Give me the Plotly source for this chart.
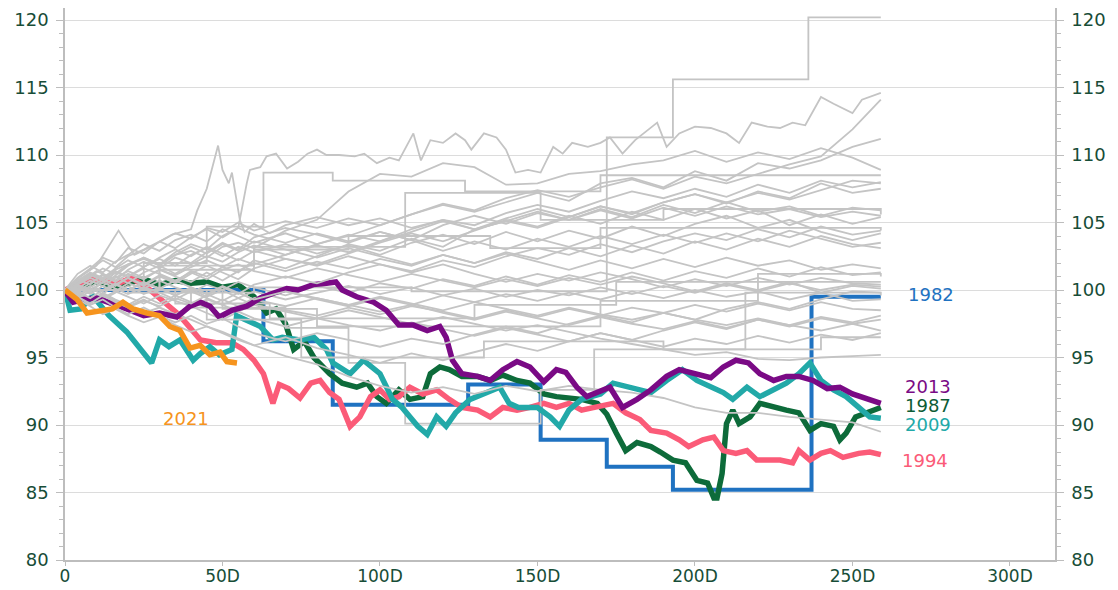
import plotly.graph_objects as go

# ---------------- data ----------------
X_TICK_VALUES = [0, 50, 100, 150, 200, 250, 300]
X_TICK_LABELS = ["0", "50D", "100D", "150D", "200D", "250D", "300D"]
Y_TICK_VALUES = [80, 85, 90, 95, 100, 105, 110, 115, 120]

# common day grid for the grey years
DAYS = [0, 4, 8, 12, 16, 20, 25, 30, 35, 40, 45, 50, 55, 60, 70, 80, 90, 100, 110, 120,
        130, 140, 150, 160, 170, 180, 190, 200, 210, 220, 230, 240, 250, 259]

r03 = [100,100.6,101.2,100.8,101.5,101.9,102.3,101.8,102.6,102.9,102.4,103.2,103.5,103.1,104.4,105.2,107.3,108.6,108.4,109.4,109.1,107.8,107.9,108.6,108.8,109.3,109.6,110.3,109.5,110.2,109.7,110.5,109.8,108.9]
r04 = [100,100.9,101.6,102.4,102.0,103.1,102.7,103.6,104.2,103.8,104.6,104.3,105.0,104.4,105.1,104.6,105.3,104.8,105.6,106.4,105.9,106.8,107.4,106.9,107.6,108.2,107.5,108.4,107.9,108.6,109.3,109.9,111.9,114.1]
r05 = [100,101.2,101.8,101.3,102.1,102.6,103.4,102.9,103.7,104.1,103.6,104.5,104.0,103.5,104.2,103.4,104.0,104.8,105.6,106.3,105.8,106.5,107.2,106.6,107.9,108.3,107.6,108.8,108.1,109.4,109.0,109.6,110.6,111.2]
r06 = [100,100.3,99.8,100.6,101.0,100.5,101.3,101.8,101.2,101.9,102.5,102.1,102.8,103.3,102.6,103.4,104.1,103.6,104.5,105.2,104.8,105.7,106.3,105.8,106.6,107.3,106.8,107.5,106.9,107.8,107.2,108.1,107.6,108.0]
r07 = [100,99.6,100.2,100.8,100.3,100.9,100.4,101.1,100.6,101.4,101.0,101.7,101.3,102.2,101.6,102.5,103.4,102.9,103.8,103.2,104.5,105.1,104.6,105.4,106.2,105.6,106.5,107.1,106.4,107.3,106.8,107.9,107.2,107.5]
r08 = [100,100.8,100.4,101.2,100.7,101.5,102.1,101.6,102.4,102.0,102.8,103.5,103.0,103.9,104.6,104.1,103.5,104.3,103.7,104.8,105.5,104.9,105.7,105.2,106.0,105.4,106.3,105.7,106.5,105.8,106.2,105.5,106.1,105.9]
r09 = [100,99.5,100.1,99.7,100.4,100.9,100.3,101.0,100.5,101.2,101.8,101.3,100.8,101.6,102.3,101.9,102.7,103.5,104.2,103.6,104.4,105.2,104.7,105.5,104.9,105.8,105.2,106.0,105.3,105.9,104.8,105.6,104.9,105.4]
r10 = [100,100.4,100.9,100.5,101.3,101.0,101.7,102.3,101.8,102.6,103.1,102.5,103.2,102.8,103.4,102.7,103.3,102.6,103.5,104.1,103.4,104.3,103.6,104.4,103.8,104.7,104.0,104.9,105.5,104.6,105.2,104.3,103.7,104.2]
r11 = [100,99.9,100.5,101.1,100.6,101.2,100.8,101.5,101.0,100.6,101.3,100.7,101.4,102.0,101.4,102.1,101.6,102.3,101.8,102.6,102.0,102.8,102.3,103.1,102.5,103.3,102.7,103.6,103.0,103.8,103.2,104.0,103.4,103.1]
r12 = [100,100.2,99.7,100.3,99.9,100.5,100.1,100.7,100.2,99.8,100.4,100.0,100.6,100.2,99.6,100.3,99.8,100.5,100.1,100.8,100.3,101.0,100.4,101.1,100.6,101.3,100.7,101.4,100.9,101.6,101.0,101.7,101.1,101.3]
r13 = [100,99.4,99.9,99.3,99.8,100.3,99.7,100.2,99.6,100.1,99.5,100.0,99.4,99.9,99.3,99.8,100.3,99.7,100.2,99.6,100.1,99.5,100.0,99.6,100.2,99.7,100.3,99.8,100.4,99.9,100.5,100.0,100.4,100.25]
r14 = [100,100.6,101.1,100.7,101.4,101.0,101.6,101.2,100.7,101.3,100.8,101.5,101.9,101.4,100.9,101.6,101.1,100.6,101.2,100.7,100.2,100.8,100.3,100.9,100.4,101.0,100.5,99.9,100.5,100.0,100.6,99.8,100.3,100.1]
r15 = [100,99.7,99.2,99.8,99.3,98.9,99.5,99.0,99.6,99.1,98.7,99.3,98.8,99.4,99.9,99.3,98.8,99.4,98.9,99.6,99.1,99.7,99.2,99.8,99.3,99.9,99.4,100.0,99.5,99.9,99.3,99.8,99.2,99.3]
r16 = [100,100.3,99.8,99.4,99.9,99.5,99.0,99.6,99.2,98.8,99.3,98.9,98.4,98.9,98.5,98.1,98.7,98.2,98.8,98.4,97.9,98.5,98.0,98.6,98.1,98.7,98.3,98.9,98.4,99.0,98.5,99.1,98.6,98.5]
r17 = [100,99.8,100.3,99.9,100.4,100.0,100.5,100.1,99.6,100.2,99.7,99.2,99.8,99.3,98.8,99.4,98.9,98.4,98.9,98.3,97.8,98.4,97.9,97.4,98.0,97.5,97.1,97.7,97.2,97.8,97.3,97.9,97.5,97.8]
r18 = [100,99.6,99.1,99.7,99.2,98.8,99.3,98.7,98.2,98.8,98.3,97.8,98.4,97.9,97.3,97.9,97.4,97.0,97.6,97.1,96.6,97.2,96.7,96.2,96.8,96.3,95.8,96.4,96.0,96.6,96.1,96.7,96.3,96.8]
r19 = [100,100.4,100.0,100.6,100.1,99.7,100.2,99.8,99.3,99.9,99.4,98.9,99.4,98.9,98.4,97.9,98.5,98.0,97.5,98.0,97.5,97.0,97.4,96.9,96.4,96.0,95.6,95.2,95.4,94.9,94.8,95.0,95.1,95.2]
r20 = [100,99.8,99.3,99.7,99.2,98.8,98.3,98.7,98.2,97.8,97.3,96.9,96.4,95.9,95.1,94.5,93.6,92.9,92.4,92.8,92.3,92.9,92.5,92.9,92.6,92.4,92.0,91.3,90.9,90.9,90.6,90.4,90.2,89.5]
r22 = [100,100.5,101.0,101.6,101.2,101.9,102.4,101.9,102.6,103.2,102.7,103.4,102.9,103.6,103.0,102.4,103.1,102.5,101.9,102.6,102.0,102.7,102.1,101.5,102.2,101.6,102.3,101.7,102.4,101.8,102.2,101.5,101.9,101.6]
r23 = [100,100.9,101.5,102.2,101.7,102.5,103.0,103.6,103.1,103.9,104.5,103.9,104.6,104.1,103.5,104.2,103.6,104.3,103.7,102.9,103.6,103.0,103.8,103.2,104.0,103.4,104.1,103.5,104.2,103.6,104.4,103.8,103.2,103.5]
r24 = [100,100.1,100.7,100.3,100.9,101.4,100.9,101.5,101.1,101.7,102.2,101.7,102.3,101.9,102.6,103.3,102.8,103.6,104.3,105.1,104.5,105.3,106.0,105.4,106.2,105.7,106.5,107.1,106.5,107.2,106.7,107.4,108.1,107.9]
r25 = [100,99.5,99.0,99.6,99.1,98.7,99.2,98.8,99.4,99.0,99.6,100.2,99.7,100.4,101.0,100.5,101.3,101.9,101.4,102.2,101.7,102.5,103.1,102.6,103.4,102.8,103.6,104.2,103.7,104.5,103.9,104.7,104.1,104.4]
r26 = [100,99.5,98.9,99.3,98.7,98.2,98.7,98.1,97.6,98.1,97.5,97.9,97.3,96.8,96.2,96.8,96.3,95.8,96.4,96.0,96.7,97.3,96.8,97.5,98.1,97.6,98.3,97.8,98.6,99.1,98.6,99.3,99.9,99.8]
r27 = [100,100.7,101.3,100.9,101.6,102.2,101.7,102.4,103.0,102.5,103.2,102.7,102.2,102.9,102.3,101.8,102.5,101.9,101.3,101.9,101.2,100.6,101.2,100.7,101.3,100.8,100.2,100.8,100.3,100.9,100.4,100.9,100.5,100.4]
r28 = [100,99.9,99.4,100.0,100.5,100.0,100.6,100.1,100.7,100.2,99.7,100.3,99.8,99.3,99.9,99.4,98.9,99.5,99.0,98.5,99.1,98.6,98.1,98.7,98.2,97.8,98.3,97.8,97.4,97.9,97.4,97.0,97.5,97.0]
r29 = [100,99.3,98.8,98.2,98.6,98.1,97.6,98.0,97.4,96.9,97.3,96.8,96.3,95.9,96.5,95.7,95.2,94.6,95.3,94.8,95.4,96.0,95.5,96.2,96.8,96.3,97.0,97.6,97.1,97.8,97.4,98.0,97.6,98.1]

# grey year with the plateau near 110-112
r01_days = [0,5,10,15,20,25,30,35,40,45,50,55,57.7,58.7,62,64,67,70.5,74,77,80,83,87,92,95,99,103,106,110.6,113,
            116,120,124,127,129,133,137,140,143,147,151,155,158,161,166,170,173,177,181,188,191,195,200,205,210,214,
            218,223,227,231,235,240,244,248,250,253,259]
r01 = [100,100.6,101.4,100.9,101.8,102.4,101.9,102.8,103.4,103.0,104.0,104.6,107.9,108.9,109.1,109.9,110.1,109.0,109.5,110.1,
       110.4,110.0,110.0,109.9,110.1,109.4,109.8,109.6,111.6,109.6,111.1,110.9,111.6,111.1,110.4,111.6,111.3,110.4,108.7,108.9,
       108.7,110.6,110.1,110.9,110.6,110.9,111.3,110.1,111.1,112.4,110.6,111.6,112.1,112.0,111.6,110.9,112.4,112.1,112.0,112.4,
       112.2,114.3,113.8,113.3,113.1,114.1,114.6]
# grey year with the spike near day 48
r02_days = [0,5,10,17,22,28,34,40,42,45,48.6,50,52,53,55.5,57,60,65,70,80,90,100,110,120,130,140,150,160,170,180,190,200,
            210,220,230,240,250,259]
r02 = [100,101.0,101.8,104.4,102.6,103.3,104.1,104.5,105.9,107.5,110.7,108.9,107.9,108.7,105.2,104.3,104.9,104.2,104.8,105.4,
       104.8,105.3,104.6,105.2,104.5,105.1,105.8,105.2,105.9,105.3,106.1,105.5,106.2,105.6,106.0,105.4,105.8,105.5]

# grey years recorded in steps
s1_days = [0, 20, 60, 110, 172, 193, 236, 259]
s1 = [100, 99.8, 100.2, 99.9, 111.3, 115.6, 120.2, 120.2]
s2_days = [0, 25, 45, 63, 85, 127, 170, 259]
s2 = [100, 102.0, 104.7, 108.7, 108.1, 107.3, 108.5, 108.5]
s3_days = [0, 30, 60, 108, 151, 190, 259]
s3 = [100, 101.5, 103.2, 107.2, 105.2, 106.0, 105.6]
s4_days = [0, 40, 70, 90, 108, 151, 168, 216, 259]
s4 = [100, 98.7, 97.2, 94.6, 90.1, 92.6, 95.6, 99.8, 99.6]
s5_days = [0, 35, 65, 130, 175, 259]
s5 = [100, 99.0, 97.9, 98.9, 100.6, 100.6]
s6_days = [0, 50, 80, 170, 220, 259]
s6 = [100, 98.6, 97.3, 99.2, 101.2, 101.0]
s7_days = [0, 45, 75, 133, 190, 240, 259]
s7 = [100, 97.8, 95.0, 96.2, 95.6, 96.5, 96.5]
s8_days = [0, 30, 60, 90, 135, 170, 259]
s8 = [100, 101.8, 103.0, 104.0, 103.1, 104.6, 104.4]

# highlighted years
y1982_days = [0, 63, 85, 128, 151, 172, 193, 237, 259]
y1982 = [100, 96.2, 91.5, 93.0, 88.9, 86.9, 85.2, 99.5, 99.5]

y1987_days = [0,5,10,15,20,25,30,35,40,45,50,55,60,64,67,70,72.6,76,79,82,84,88,92.6,96,99,102,106,109.5,113.6,116,
              119,122,126,131,135,139,143.5,147.6,152,156,160,164,169,172,175,178,181.6,186,189,193,197,200.6,204,206,207,
              208.6,210,212,214,217.5,220.6,225,229,233,236.5,240,244,246,248,251,254.6,259]
y1987 = [100,100.3,100.6,100.2,100.5,100.8,100.4,100.7,100.5,100.6,100.2,100.4,99.5,98.3,98.6,97.5,95.6,96.2,95.0,94.2,
         93.8,93.1,92.8,93.1,92.1,91.6,92.6,91.9,92.1,93.8,94.3,94.1,93.6,93.6,93.3,93.7,93.3,93.1,92.3,92.1,
         92.0,91.9,91.6,90.8,89.4,88.1,88.7,88.4,88.0,87.4,87.2,85.9,85.7,84.6,84.6,86.4,90.1,91.1,90.1,90.6,
         91.6,91.3,91.1,90.9,89.6,90.1,89.9,88.9,89.4,90.6,90.9,91.3]

y1994_days = [0,4,8,13,17,21,26,32,36,39,43,48,53,56.6,60,63,66,68,71,74.6,78,81,84,87,90.5,93.6,97,100,103,106,
              109.5,113.6,118,122,126,131,135,139,143.5,147.6,152,156,160,164,169,174,178,182.5,186,191,195,198,202.5,
              206,209,213,216.5,219.6,223,227,231,233,236.5,240,243,247,252,255.5,259]
y1994 = [100,100.4,100.8,100.7,100.5,100.9,100.2,99.0,98.2,97.4,96.3,96.1,96.1,95.6,94.8,93.8,91.6,93.0,92.7,92.0,
         93.1,93.3,92.4,91.9,89.9,90.6,92.1,92.6,91.9,92.1,92.8,92.3,92.6,91.9,91.3,91.1,90.6,91.3,91.1,91.3,
         91.6,91.3,91.6,91.1,91.3,91.6,90.9,90.4,89.6,89.4,88.9,88.4,88.9,89.1,88.1,87.9,88.1,87.4,87.4,87.4,
         87.2,88.1,87.4,87.9,88.1,87.6,87.9,88.0,87.8]

y2009_days = [0,1.6,5,8,9,14,19.6,24,27.5,30,33,36.5,40.7,43,46,49,53,54.5,57.7,62,66,69,74.6,79,83,85,90.5,94.7,100,104,
              107,112,115,118,121,124,128.6,134,138,141,144,150,154,157,160,164,170,174,180,186,191,196,200.6,205,209,
              212,216.5,220.6,225,229,233,236.5,240,244,248,252,255.5,259]
y2009 = [100,98.5,98.6,99.4,99.5,98.1,96.9,95.7,94.6,96.3,95.8,96.3,94.8,95.3,95.8,95.2,95.6,98.1,97.8,97.3,
         96.3,96.5,96.3,96.5,95.6,94.6,93.8,94.8,93.8,91.9,91.3,89.9,89.3,90.6,89.9,90.9,91.9,92.4,92.8,91.6,
         91.3,91.3,90.6,89.9,91.1,91.9,92.3,93.1,92.8,92.4,93.3,94.1,93.3,92.8,92.4,91.9,92.8,92.1,92.6,93.1,
         93.8,94.6,93.3,92.6,92.1,91.3,90.6,90.5]

y2013_days = [0,0.5,2.6,6,10,14,19.6,25,30,35.5,39.7,43,46,49,53,57.7,62,66,70.4,74,78.8,83,86,88,92.6,98,102,106,110.6,115,
              119,121,123,126,131,135,139,143.5,147.6,152,156,159,162.5,165.7,169,173,177,181.6,186,191,195,199,205,209,
              213,217,220.6,225,229,233,237.5,242,246,250,254.6,259]
y2013 = [100,99.75,99.1,99.3,99.4,99.1,98.6,98.1,98.3,98.0,98.8,99.1,98.8,98.0,98.5,98.8,99.4,99.75,100.1,100.0,
         100.4,100.5,100.6,100.0,99.5,99.1,98.5,97.4,97.4,97.0,97.3,96.5,94.8,93.8,93.6,93.3,94.1,94.7,94.3,93.2,
         94.1,93.9,92.8,92.1,92.4,92.8,91.3,91.9,92.6,93.6,94.1,93.9,93.5,94.3,94.8,94.6,93.8,93.3,93.6,93.6,
         93.3,92.7,92.8,92.3,91.9,91.6]

y2021_days = [0, 3.8, 7, 11, 15, 18.4, 21.6, 26, 30, 33.3, 36.5, 39.7, 42.9, 46, 49.2, 51.4, 54.6]
y2021 = [100, 99.3, 98.3, 98.4, 98.6, 99.1, 98.6, 98.3, 98.1, 97.3, 97.0, 95.7, 95.9, 95.2, 95.4, 94.7, 94.6]

# labels: (text, colour, day, value)
LABELS = [("1982", "#1f72c1", 275, 99.7),
          ("2013", "#7a0a85", 274, 92.9),
          ("1987", "#0d5c35", 274, 91.5),
          ("2009", "#22a9a8", 274, 90.1),
          ("1994", "#fb5b78", 273, 87.4),
          ("2021", "#f6941e", 38.5, 90.5)]

# ---------------- figure ----------------
GREY = "#c4c4c4"
TEXT = "#174d37"
FONT = "DejaVu Sans"
fig = go.Figure()


def grey(days, vals, shape="linear"):
    fig.add_trace(go.Scatter(x=days, y=vals, mode="lines", line=dict(color=GREY, width=1.8, shape=shape),
                             showlegend=False, hoverinfo="skip"))


def hl(days, vals, color, width, shape="linear"):
    fig.add_trace(go.Scatter(x=days, y=vals, mode="lines", line=dict(color=color, width=width, shape=shape),
                             showlegend=False, hoverinfo="skip"))


hl(y1982_days, y1982, "#1f72c1", 4, shape="hv")
hl(y1987_days, y1987, "#0d6b3a", 5.5)
hl(y1994_days, y1994, "#fb5b78", 5.5)

for v in [r03, r04, r05, r06, r07, r08, r09, r10, r11, r12, r13, r14, r15, r16, r17, r18]:
    grey(DAYS, v)
for d, v in [(s1_days, s1), (s2_days, s2), (s3_days, s3), (s4_days, s4), (s5_days, s5)]:
    grey(d, v, shape="hv")

hl(y2009_days, y2009, "#22a9a8", 5.5)

for v in [r19, r20, r22, r23, r24]:
    grey(DAYS, v)
for d, v in [(s6_days, s6), (s7_days, s7)]:
    grey(d, v, shape="hv")

hl(y2013_days, y2013, "#7a0a85", 5.5)

grey(r01_days, r01)
grey(r02_days, r02)
for v in [r25, r26, r27, r28, r29]:
    grey(DAYS, v)
grey(s8_days, s8, shape="hv")

hl(y2021_days, y2021, "#f6941e", 5.5)

# invisible trace so that the right-hand axis is drawn
fig.add_trace(go.Scatter(x=[0], y=[100], yaxis="y2", mode="markers", marker=dict(opacity=0),
                         showlegend=False, hoverinfo="skip"))

for text, color, xd, yv in LABELS:
    fig.add_annotation(x=xd, y=yv, text=text, showarrow=False, xanchor="center", yanchor="middle",
                       height=16, font=dict(color=color, size=18, family=FONT))

yaxis_common = dict(range=[80, 120.89], tickvals=Y_TICK_VALUES, ticks="outside", ticklen=7,
                    tickcolor="#bdbdbd", tickwidth=1, showline=True, linecolor="#bdbdbd", linewidth=1.5,
                    tickfont=dict(color=TEXT, size=18, family=FONT), zeroline=False, automargin=False,
                    ticklabelstandoff=4,
                    minor=dict(dtick=1, ticks="outside", ticklen=4, tickcolor="#bdbdbd", showgrid=False))

# the page body adds an 8 px offset, so the figure is sized to sit inside the 1118x590 window
fig.update_layout(
    width=1110, height=582,
    margin=dict(l=57, r=63, t=0, b=30, autoexpand=False),
    paper_bgcolor="white", plot_bgcolor="white",
    xaxis=dict(range=[0, 314.3], tickvals=X_TICK_VALUES, ticktext=X_TICK_LABELS, ticks="outside", ticklen=4,
               tickcolor="#bdbdbd", showline=True, linecolor="#bdbdbd", linewidth=1.5, showgrid=False,
               zeroline=False, automargin=False, ticklabelstandoff=-4,
               tickfont=dict(color=TEXT, size=17, family=FONT)),
    yaxis=dict(**yaxis_common, showgrid=True, gridcolor="#dcdcdc", gridwidth=1, side="left"),
    yaxis2=dict(**yaxis_common, showgrid=False, overlaying="y", side="right"),
)

fig.write_html("out.html")
